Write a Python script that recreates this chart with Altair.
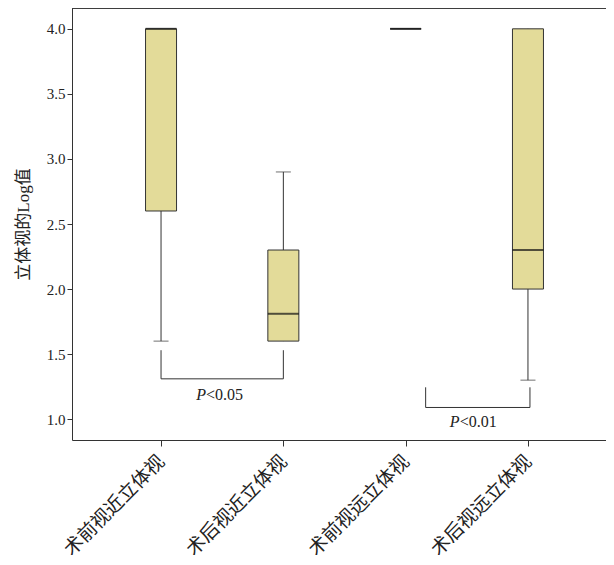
import altair as alt
import pandas as pd

categories = ["术前视近立体视", "术后视近立体视", "术前视远立体视", "术后视远立体视"]
lower = [1.6, 1.6, 4.0, 1.3]
q1 = [2.6, 1.6, 4.0, 2.0]
median = [4.0, 1.81, 4.0, 2.3]
q3 = [4.0, 2.3, 4.0, 4.0]
upper = [4.0, 2.9, 4.0, 4.0]

# significance brackets
br_left = ["术前视近立体视", "术前视远立体视"]
br_right = ["术后视近立体视", "术后视远立体视"]
br_top = [1.53, 1.245]
br_bottom = [1.31, 1.09]
br_text_y = [1.185, 0.975]
br_labels = ["<0.05", "<0.01"]

FONT = "Liberation Serif, Noto Sans CJK SC"
FILL = "#E3DB99"
LINE = "#333333"

df = pd.DataFrame({"cat": categories, "lower": lower, "q1": q1, "median": median,
                   "q3": q3, "upper": upper})
df_lowcap = df[df["lower"] < df["q1"]]
df_upcap = df[df["upper"] > df["q3"]]

xscale = alt.Scale(type="point", domain=categories, padding=0.728)
yscale = alt.Scale(domain=[0.84, 4.16], nice=False, zero=False)

xenc = alt.X("cat:N", scale=xscale, sort=categories,
             axis=alt.Axis(title=None, labelAngle=-45, labelAlign="right", labelBaseline="middle",
                           labelFont=FONT, labelFontSize=19, labelColor="#222", labelPadding=12,
                           tickSize=6, tickColor=LINE, domain=True, domainColor=LINE, grid=False))
yenc = alt.Y("lower:Q", scale=yscale,
             axis=alt.Axis(title="立体视的Log值", values=[1.0, 1.5, 2.0, 2.5, 3.0, 3.5, 4.0],
                           format=".1f", labelFont=FONT, labelFontSize=15, labelColor="#222",
                           titleFont=FONT, titleFontSize=17, titleFontWeight="normal",
                           titleColor="#222", titlePadding=14, tickSize=5, tickColor=LINE,
                           domain=True, domainColor=LINE, grid=False))

base = alt.Chart(df)
whisker = base.mark_rule(color=LINE, strokeWidth=1).encode(x=xenc, y=yenc, y2="upper:Q")
box = base.mark_bar(size=31, fill=FILL, stroke=LINE, strokeWidth=1).encode(
    x=alt.X("cat:N", scale=xscale, sort=categories), y=alt.Y("q1:Q", scale=yscale), y2="q3:Q")
med = base.mark_tick(size=31, thickness=2, color="#111", orient="horizontal").encode(
    x=alt.X("cat:N", scale=xscale, sort=categories), y=alt.Y("median:Q", scale=yscale))
lowcap = alt.Chart(df_lowcap).mark_tick(size=15, thickness=1, color=LINE, orient="horizontal").encode(
    x=alt.X("cat:N", scale=xscale, sort=categories), y=alt.Y("lower:Q", scale=yscale))
upcap = alt.Chart(df_upcap).mark_tick(size=15, thickness=1, color=LINE, orient="horizontal").encode(
    x=alt.X("cat:N", scale=xscale, sort=categories), y=alt.Y("upper:Q", scale=yscale))

# top frame line
top_line = base.mark_rule(color=LINE, strokeWidth=1).encode(
    x=alt.value(0), x2=alt.value(545), y=alt.value(0))

br = pd.DataFrame({"l": br_left, "r": br_right, "top": br_top, "bot": br_bottom,
                   "ty": br_text_y, "lab": br_labels})
br1 = br.iloc[[0]]
br2 = br.iloc[[1]]

def bracket(d, lo, ro, tdx):
    c = alt.Chart(d)
    xl = alt.X("l:N", scale=xscale, sort=categories)
    xr = alt.X("r:N", scale=xscale, sort=categories)
    ytop = alt.Y("top:Q", scale=yscale)
    ybot = alt.Y("bot:Q", scale=yscale)
    lv = c.mark_rule(color=LINE, strokeWidth=1, xOffset=lo).encode(x=xl, y=ytop, y2="bot:Q")
    rv = c.mark_rule(color=LINE, strokeWidth=1, xOffset=ro).encode(x=xr, y=ytop, y2="bot:Q")
    hz = c.mark_rule(color=LINE, strokeWidth=1, xOffset=lo, x2Offset=ro).encode(x=xl, x2="r:N", y=ybot)
    tp = c.mark_text(text="P", font=FONT, fontSize=16, fontStyle="italic", align="right",
                     baseline="middle", color="#222", dx=tdx).encode(x=xl, y=alt.Y("ty:Q", scale=yscale))
    tr = c.mark_text(font=FONT, fontSize=16, align="left", baseline="middle", color="#222",
                     dx=tdx).encode(x=xl, y=alt.Y("ty:Q", scale=yscale), text="lab:N")
    return [lv, rv, hz, tp, tr]

layers = [whisker, box, med, lowcap, upcap, top_line] + bracket(br1, 0, 0, 45) + bracket(br2, 20, 2, 54)

chart = alt.layer(*layers).properties(
    width=545, height=432,
    background="white",
    autosize=alt.AutoSizeParams(type="none"),
    padding={"left": 64, "top": 0, "right": -11, "bottom": 125},
).configure_view(stroke="transparent", strokeWidth=0)

chart.save("out.html", embed_options={"renderer": "svg", "actions": False})
